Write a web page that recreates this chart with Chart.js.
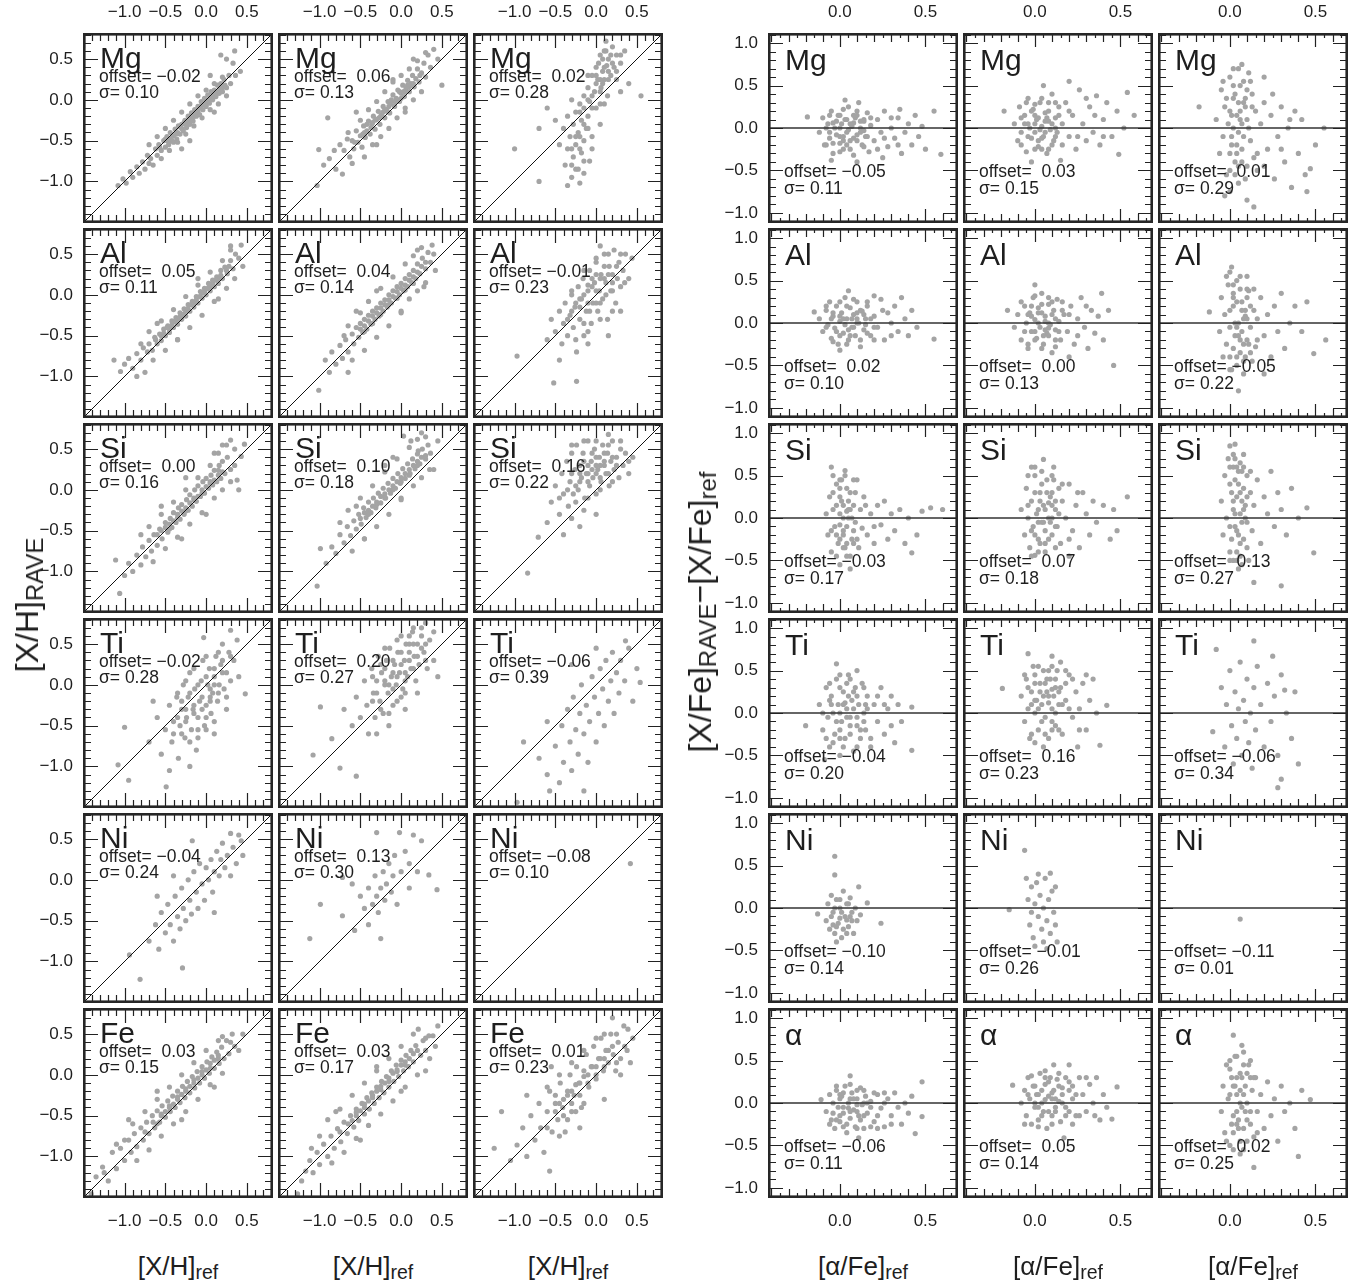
<!DOCTYPE html>
<html>
<head>
<meta charset="utf-8">
<title>RAVE abundances vs reference</title>
<script src="https://cdn.jsdelivr.net/npm/chart.js@4.4.1/dist/chart.umd.min.js"></script>
<style>
  body { margin: 0; background: #fff; }
  #fig { position: relative; width: 1369px; height: 1288px; overflow: hidden;
         font-family: "Liberation Sans", Arial, Helvetica, sans-serif; color: #1e1e1e; }
  .txt { position: absolute; white-space: pre; line-height: 1; }
  .panel { position: absolute; }
  .title { position: absolute; white-space: nowrap; line-height: 1; }
  .sub { font-size: 0.75em; position: relative; top: 0.2em; }
</style>
</head>
<body>
<div id="fig"></div>
<script>
// Panel rows and the numbers printed in each panel
const XH_ROWS = ['Mg', 'Al', 'Si', 'Ti', 'Ni', 'Fe'];
const XFE_ROWS = ['Mg', 'Al', 'Si', 'Ti', 'Ni', '\u03b1'];

const XH_OFFSET = [[-0.02, 0.06, 0.02], [0.05, 0.04, -0.01], [0.00, 0.10, 0.16],
                   [-0.02, 0.20, -0.06], [-0.04, 0.13, -0.08], [0.03, 0.03, 0.01]];
const XH_SIGMA = [[0.10, 0.13, 0.28], [0.11, 0.14, 0.23], [0.16, 0.18, 0.22],
                  [0.28, 0.27, 0.39], [0.24, 0.30, 0.10], [0.15, 0.17, 0.23]];
const XFE_OFFSET = [[-0.05, 0.03, 0.01], [0.02, 0.00, -0.05], [-0.03, 0.07, 0.13],
                    [-0.04, 0.16, -0.06], [-0.10, -0.01, -0.11], [-0.06, 0.05, 0.02]];
const XFE_SIGMA = [[0.11, 0.15, 0.29], [0.10, 0.13, 0.22], [0.17, 0.18, 0.27],
                   [0.20, 0.23, 0.34], [0.14, 0.26, 0.01], [0.11, 0.14, 0.25]];

// Axis ranges and tick labels
const XH_RANGE = [-1.51, 0.82];
const XH_TICKS = [-1.0, -0.5, 0.0, 0.5];
const XFE_XRANGE = [-0.42, 0.69];
const XFE_YRANGE = [-1.12, 1.12];
const XFE_XTICKS = [0.0, 0.5];
const XFE_YTICKS = [-1.0, -0.5, 0.0, 0.5, 1.0];

// [X/H]_RAVE vs [X/H]_ref  (x, y pairs)
const XH_MG_1 = [-1.08,-1.05, -1.02,-.97, -.98,-1.02, -.93,-.88, -.9,-.95, -.85,-.82, -.82,-.9, -.78,-.76, -.75,-.85, -.72,-.68, -.7,-.78, -.68,-.72,
  -.62,-.6, -.6,-.68, -.58,-.55, -.55,-.62, -.52,-.5, -.5,-.58, -.48,-.45, -.46,-.55, -.44,-.4, -.42,-.5, -.4,-.44, -.38,-.36,
  -.36,-.48, -.34,-.32, -.32,-.42, -.3,-.3, -.28,-.38, -.26,-.25, -.24,-.34, -.22,-.2, -.2,-.3, -.18,-.16, -.16,-.26, -.14,-.12,
  -.12,-.2, -.1,-.08, -.08,-.18, -.06,-.02, -.04,-.12, -.02,.02, 0,-.08, .02,.06, .04,-.04, .06,.1, .08,0, .1,.12, .12,.04,
  .14,.18, .16,.08, .18,.2, .2,.1, .22,.25, .25,.15, .28,.3, .3,.2, .33,.45, .36,.3, .25,.5, .18,.55, .35,.6, .05,.3,
  -.2,-.5, .1,-.15, -.3,-.6, .42,.35, -.45,-.5, -.35,-.4, -.25,-.3, -.15,-.2, -.05,-.05, .05,.02, .15,.1, -.5,-.48,
  -.3,-.35, -.1,-.14, .1,.06, .2,.15, -.4,-.52, -.2,-.24, 0,-.02,
  -.57,-.58, -.47,-.5, -.37,-.42, -.27,-.28, -.17,-.22, -.07,-.1, .03,0, .13,.08, .23,.18, -.43,-.47, -.33,-.33, -.23,-.27,
  -.13,-.15, -.03,-.06, .07,.04, .17,.14,
  -.6,-.45, -.55,-.72, -.5,-.35, -.45,-.62, -.4,-.25, -.35,-.52, -.3,-.15, -.25,-.42, -.2,-.05, -.15,-.32, -.1,.05, -.05,-.22,
  0,.12, .05,-.12, .1,.2, .15,-.05, .2,.28, .25,.05, -.65,-.8, -.7,-.55];
const XH_MG_2 = [-1.03,-1.05, -1.01,-.61, -.9,-.22, -.95,-.8, -.88,-.72, -.82,-.62, -.8,-.85, -.75,-.55, -.72,-.91, -.7,-.62, -.66,-.48,
  -.63,-.7, -.6,-.5, -.58,-.6, -.55,-.38, -.53,-.52, -.5,-.44, -.48,-.58, -.46,-.32, -.44,-.46, -.42,-.38, -.4,-.26, -.38,-.42,
  -.36,-.3, -.34,-.2, -.32,-.36, -.3,-.24, -.28,-.14, -.26,-.3, -.24,-.18, -.22,-.08, -.2,-.22, -.18,-.12, -.16,-.02, -.14,-.16,
  -.12,-.05, -.1,.06, -.08,-.08, -.06,.02, -.04,.12, -.02,-.02, 0,.08, .02,.18, .04,.04, .06,.14, .08,.24, .1,.1, .12,.2,
  .14,.3, .16,.16, .18,.26, .2,.38, .22,.22, .25,.33, .28,.45, .3,.28, .33,.55, .36,.4, .4,.62, .45,.5, .15,.5, -.1,.25,
  .05,-.15, -.3,-.55, .5,.18, -.45,-.4, -.35,-.28, -.25,-.2, -.15,-.08, -.05,0, .05,.1, .15,.2, -.2,-.12, 0,.02, .1,.16,
  -.57,-.52, -.47,-.42, -.37,-.34, -.27,-.22, -.17,-.14, -.07,-.02, .03,.1, .13,.18, .23,.3, -.42,-.3, -.32,-.25, -.22,-.15,
  -.12,0, -.02,.1, .08,.18,
  -.65,-.4, -.6,-.78, -.5,-.25, -.45,-.7, -.4,-.12, -.35,-.55, -.3,-.02, -.25,-.45, -.2,.1, -.15,-.35, -.1,.22, -.05,-.22,
  0,.3, .05,-.1, .1,.38, .15,0, .2,.48, .25,.1, .3,.58, -.55,-.15];
const XH_MG_3 = [0,.4, .05,.55, .1,.6, .15,.5, .2,.65, .25,.55, .3,.45, .35,.6, .12,.72, -.05,.3, .02,.25, .08,.35, .18,.3, .25,.25,
  -.1,.15, -.02,.1, .06,.15, .14,.05, -.15,.05, -.2,-.05, -.08,-.02, 0,-.1, .1,-.05, -.25,-.15, -.3,0, -.18,-.25, -.1,-.2,
  -.28,-.3, -.35,-.2, -.22,-.4, -.12,-.35, -.32,-.45, -.4,-.35, -.25,-.55, -.15,-.5, -.35,-.6, -.28,-.7, -.18,-.65, -.38,-.8,
  -.22,-.85, -.3,-.95, -.15,-.9, -.35,-1.05, -.2,-1.02, -.08,-.75, -.45,-.55, -.5,-.25, -.6,-.1, -.7,-.35, -1.0,-.6, -.7,-1.0,
  .4,.2, .55,.05, .3,.1, -.05,-.45, .05,-.3, -.15,-.1, -.05,.05, .05,.25, .1,.4, -.2,-.15, .15,.35, 0,.2,
  .03,.45, .08,.5, .13,.42, .18,.55, .22,.4, .08,.2, .15,.25, 0,.3, -.1,0, -.05,-.1, -.15,-.3, -.25,-.45, -.2,-.6, -.3,-.8,
  .05,.1, .12,.6,
  .1,.25, .2,.45, .25,.35, .3,.55, -.1,-.35, -.2,-.45, -.3,-.6, -.25,-.85, -.15,-.75, -.05,-.6, .05,-.05, -.1,.3];
const XH_AL_1 = [-1.13,-.8, -1.05,-.94, -1.0,-.85, -.95,-.78, -.9,-.9, -.85,-.72, -.8,-.8, -.77,-.65, -.72,-.7, -.7,-.6, -.66,-.68,
  -.63,-.52, -.6,-.6, -.57,-.48, -.55,-.56, -.52,-.42, -.5,-.5, -.47,-.38, -.45,-.46, -.42,-.32, -.4,-.4, -.37,-.28, -.35,-.36,
  -.32,-.22, -.3,-.3, -.27,-.17, -.25,-.26, -.22,-.12, -.2,-.2, -.17,-.08, -.15,-.15, -.12,-.02, -.1,-.1, -.07,.04, -.05,-.04,
  -.02,.08, 0,0, .03,.14, .05,.05, .08,.18, .1,.1, .13,.22, .15,.14, .18,.3, .2,.2, .23,.34, .26,.26, .3,.42, .33,.32,
  .36,.5, .4,.45, .43,.61, .3,.6, .45,.35, -.35,-.55, -.6,-.35, .15,-.05, -.1,.2, -.75,-.95, -.45,-.42, -.35,-.3, -.25,-.2,
  -.15,-.1, -.05,.02, .05,.1, .15,.2, -.55,-.5, .25,.3,
  -.62,-.55, -.52,-.47, -.42,-.37, -.32,-.27, -.22,-.17, -.12,-.06, -.02,.04, .08,.14, .18,.24, .28,.35, -.48,-.4, -.38,-.33,
  -.28,-.24, -.18,-.12, -.08,-.02, .02,.08, .12,.18,
  -.7,-.45, -.65,-.8, -.55,-.32, -.5,-.68, -.4,-.18, -.35,-.55, -.25,-.02, -.2,-.4, -.1,.12, -.05,-.25, .05,.28, .1,-.08,
  .2,.42, .25,.08, .3,.55, -.8,-.6, -.85,-1.0, .35,.2];
const XH_AL_2 = [-1.01,-1.17, -.93,-.8, -.88,-.95, -.85,-.7, -.8,-.85, -.75,-.62, -.72,-.78, -.68,-.55, -.65,-.7, -.6,-.48, -.58,-.6,
  -.55,-.4, -.52,-.52, -.5,-.35, -.47,-.46, -.45,-.3, -.42,-.42, -.4,-.25, -.37,-.36, -.35,-.2, -.32,-.3, -.3,-.16, -.27,-.26,
  -.25,-.1, -.22,-.2, -.2,-.06, -.17,-.15, -.15,0, -.12,-.1, -.1,.05, -.07,-.04, -.05,.1, -.02,0, 0,.14, .03,.05, .05,.2,
  .08,.1, .1,.25, .13,.15, .15,.3, .18,.2, .2,.38, .23,.26, .26,.45, .3,.32, .33,.52, .36,.4, .38,.61, .2,.55, .42,.3,
  -.3,.05, 0,-.2, -.65,-.95, -.55,-.2, .28,.1, -.45,-.38, -.35,-.26, -.25,-.16, -.15,-.06, -.05,.04, .05,.12, .15,.22, .25,.35,
  -.5,-.42, -.4,-.32, -.3,-.22, -.2,-.12, -.1,-.02, 0,.08, .1,.18, .2,.28, .3,.4, -.45,-.45, -.35,-.35, -.25,-.24, -.15,-.12,
  -.05,-.04, .05,.06, .15,.14,
  -.65,-.38, -.6,-.8, -.5,-.22, -.45,-.68, -.4,-.08, -.3,-.52, -.25,.08, -.15,-.38, -.1,.22, 0,-.22, .05,.38, .1,-.05,
  .15,.48, .2,.05, .25,.58, .3,.15, -.7,-.5, .4,.5];
const XH_AL_3 = [-.97,-.75, -.52,-1.08, -.24,-1.06, -.6,-.55, -.55,-.3, -.5,-.45, -.45,-.2, -.42,-.6, -.4,-.35, -.38,-.1, -.35,-.5,
  -.32,-.25, -.3,.05, -.28,-.4, -.26,-.15, -.24,-.7, -.22,.1, -.2,-.3, -.18,-.05, -.16,.2, -.15,-.5, -.12,-.2, -.1,.05, -.08,.3,
  -.06,-.35, -.04,-.1, -.02,.15, 0,.4, .02,-.2, .04,.05, .06,.25, .08,-.05, .1,.5, .12,.15, .14,-.3, .16,.35, .18,.05, .2,.25,
  .22,.55, .24,-.1, .26,.2, .28,.4, .3,.1, .33,.3, .36,.5, .4,.2, .44,.45, .05,.6, -.1,-.6, .15,-.5, -.45,-.8, .3,-.2,
  -.1,-.1, 0,.05, .1,.2, -.2,-.15, .05,-.1, -.05,.2,
  -.25,-.1, -.15,0, -.05,.1, .05,.2, .15,.25, -.3,-.2, -.2,-.05, -.1,.12, 0,.25, .1,.35, .2,.15, -.15,-.35, 0,-.1, -.08,-.2,
  .12,0, .25,.35,
  -.35,-.3, -.25,-.55, -.1,-.45, .05,-.3, .2,-.2, -.3,0, -.15,.3, 0,.45, .15,.5, .3,.5, .35,.15, .2,.05];
const XH_SI_1 = [-1.06,-1.27, -1.11,-.86, -1.0,-1.05, -.95,-.9, -.9,-1.0, -.85,-.8, -.8,-.92, -.78,-.7, -.74,-.82, -.7,-.62, -.67,-.75,
  -.64,-.55, -.6,-.68, -.57,-.48, -.54,-.6, -.5,-.4, -.47,-.52, -.44,-.35, -.42,-.46, -.4,-.28, -.37,-.4, -.34,-.22, -.32,-.36,
  -.3,-.18, -.27,-.3, -.24,-.12, -.22,-.25, -.2,-.06, -.17,-.2, -.14,0, -.12,-.14, -.1,.05, -.07,-.08, -.04,.1, -.02,-.04,
  0,.14, .03,.02, .06,.18, .08,.06, .1,.24, .13,.1, .16,.3, .18,.14, .2,.35, .23,.2, .26,.4, .3,.25, .3,.61, .35,.3,
  .43,.41, .47,.56, .2,.55, .38,.12, -.25,.15, -.3,-.6, 0,-.3, -.55,-.2, .1,.45, .4,0, -.45,-.42, -.35,-.3, -.25,-.22,
  -.15,-.12, -.05,0, .05,.08, .15,.18,
  -.6,-.55, -.5,-.46, -.4,-.38, -.3,-.26, -.2,-.16, -.1,-.08, 0,.04, .1,.12, .2,.22, -.55,-.5, -.45,-.48, -.35,-.34,
  -.25,-.26, -.15,-.1, -.05,-.04, .05,.1, .15,.24,
  -.7,-.45, -.65,-.88, -.55,-.3, -.5,-.72, -.4,-.15, -.35,-.58, -.25,0, -.2,-.42, -.1,.15, -.05,-.28, .05,.3, .1,-.1,
  .15,.45, .2,0, .25,.55, .3,.1, -.8,-.55, .35,.5];
const XH_SI_2 = [-1.03,-1.18, -.99,-.72, -.92,-.9, -.85,-.7, -.8,-.78, -.75,-.55, -.7,-.65, -.66,-.45, -.62,-.56, -.58,-.38, -.55,-.48,
  -.52,-.3, -.49,-.42, -.46,-.22, -.43,-.34, -.4,-.15, -.37,-.28, -.34,-.1, -.31,-.22, -.28,-.04, -.25,-.16, -.22,.02, -.19,-.1,
  -.16,.08, -.13,-.04, -.1,.14, -.07,.02, -.04,.2, -.01,.08, .02,.26, .05,.14, .08,.32, .11,.2, .14,.38, .17,.26, .2,.44,
  .23,.32, .26,.5, .3,.38, .33,.55, .36,.45, .03,.66, .12,.6, .21,.48, -.1,.4, .4,.25, .45,.6, -.2,.3, 0,-.1, -.45,-.6,
  .25,.7, -.4,-.25, -.3,-.15, -.2,-.05, -.1,.05, 0,.15, .1,.25, .2,.35,
  -.5,-.35, -.4,-.3, -.3,-.18, -.2,-.1, -.1,0, 0,.1, .1,.18, .2,.3, .3,.42, -.45,-.28, -.35,-.2, -.25,-.08, -.15,0,
  -.05,.1, .05,.2, .15,.3, .25,.4,
  -.65,-.25, -.6,-.75, -.5,-.1, -.45,-.6, -.35,.05, -.3,-.45, -.2,.22, -.15,-.3, -.05,.38, 0,-.12, .1,.52, .15,.05,
  .2,.62, .25,.15, .3,.65, -.75,-.4, .35,.25, -.55,-.2];
const XH_SI_3 = [-.84,-1.02, -.71,-.58, -.6,-.4, -.55,-.15, -.5,.05, -.45,-.3, -.42,.2, -.4,-.05, -.36,.35, -.34,-.2, -.32,.1,
  -.3,.45, -.28,-.05, -.26,.25, -.24,.55, -.22,0, -.2,.3, -.18,.15, -.16,.45, -.14,-.1, -.12,.2, -.1,.6, -.08,.05, -.06,.35,
  -.04,.15, -.02,.5, 0,-.05, .02,.25, .04,.4, .06,.1, .08,.55, .1,.3, .12,.2, .14,.45, .16,.05, .18,.35, .2,.6, .22,.25,
  .25,.4, .28,.15, .3,.5, .33,.3, .36,.45, .4,.2, .45,.4, -.3,-.35, -.15,-.25, 0,-.3, -.4,-.55, -.2,-.45, .15,.68,
  -.1,.2, 0,.3, -.2,.1, .1,.35, -.05,.25,
  -.2,.2, -.1,.3, 0,.4, .1,.45, .2,.4, -.15,.35, -.05,.45, .05,.3, .15,.2, -.25,.05, -.1,.1, .05,.15, .25,.3, -.3,.2, 0,.2,
  -.35,0, -.25,-.15, -.1,-.1, .05,0, .2,.1, -.3,.55, -.15,.6, 0,.6, .15,.55, .3,.6, .4,.35, -.45,-.1];
const XH_TI_1 = [-1.0,-.52, -1.08,-.98, -.95,-1.17, -.49,-1.25, .48,-.11, -.03,.58, .3,.67, -.7,-.7, -.6,-.4, -.55,-.85, -.5,-.55,
  -.45,-.25, -.42,-.7, -.4,-.45, -.36,-.15, -.34,-.9, -.32,-.5, -.3,-.3, -.28,0, -.26,-.65, -.24,-.4, -.22,-.15, -.2,.15,
  -.18,-.55, -.16,-.3, -.14,-.05, -.12,-.8, -.1,-.4, -.08,-.2, -.06,.05, -.04,.3, -.02,-.5, 0,-.25, .02,0, .04,.2, .06,-.35,
  .08,-.1, .1,.1, .12,.35, .14,-.2, .16,0, .18,.25, .2,.5, .22,-.05, .25,.15, .28,.4, .3,.05, .34,.3, .38,.55, .25,-.3,
  -.45,-1.05, -.65,-.2, .1,-.6, -.2,-1.0, .4,.1, -.15,-.25, -.05,-.15, .05,-.05, -.25,-.3, .1,0,
  -.3,-.2, -.2,-.1, -.1,0, 0,.1, .1,.2, -.25,-.45, -.15,-.35, -.05,-.3, .05,-.2, .15,-.1, -.35,-.4, .2,.3, -.1,-.55, 0,-.4, .2,.15,
  -.3,-.6, -.2,-.7, -.1,-.65, 0,-.55, .1,-.45, -.35,-.1, -.25,.05, -.15,.2, 0,.35, .15,.4, .3,.35, .25,-.15, -.4,-.6, .05,-.15];
const XH_TI_2 = [-.99,-.27, -1.08,-.86, -.75,-1.02, -.55,-1.12, -.85,-.66, .3,.76, -.7,-.3, -.6,-.5, -.55,-.15, -.5,-.4, -.45,.05,
  -.42,-.25, -.4,-.6, -.36,.2, -.34,-.1, -.32,-.4, -.3,.05, -.28,.35, -.26,-.2, -.24,.15, -.22,-.35, -.2,0, -.18,.3, -.16,-.1,
  -.14,.45, -.12,.1, -.1,-.25, -.08,.25, -.06,0, -.04,.4, -.02,.15, 0,.6, .02,-.05, .04,.3, .06,.5, .08,.1, .1,.4, .12,.2,
  .14,.65, .16,.35, .18,.05, .2,.5, .22,.25, .25,.7, .28,.4, .32,.2, .35,.55, .4,.3, .45,.1, -.3,-.6, .05,-.3, .4,.65,
  -.15,-.5, -.1,.15, 0,.25, .1,.3, -.2,.05, .05,.15,
  -.2,.2, -.1,.3, 0,.4, .1,.5, .2,.35, -.15,0, -.05,.1, .05,.05, .15,.2, .25,.45, -.3,-.1, .3,.5, 0,-.15, -.25,.25, .15,.5,
  -.35,-.2, -.25,-.3, -.15,-.35, -.05,-.2, .05,-.1, .2,-.1, .25,.6, .1,.6, -.05,.55, -.2,.45, -.35,.1, .3,.3, .15,.7, -.1,-.05];
const XH_TI_3 = [-.97,-1.44, -.57,-1.3, -.89,-.7, .36,.54, .54,.03, -.7,-.9, -.6,-1.1, -.5,-.75, -.45,-1.2, -.42,-.5, -.4,-.95,
  -.35,-.3, -.32,-.7, -.3,-1.05, -.28,-.15, -.25,-.55, -.22,-.85, -.2,-.35, -.18,0, -.15,-.6, -.12,-.25, -.1,-.95, -.08,-.45,
  -.05,.1, -.02,-.15, 0,-.7, .03,-.35, .05,.2, .08,-.05, .1,-.5, .12,.3, .15,-.2, .18,.05, .2,.4, .22,-.35, .25,.15,
  .28,-.1, .3,.3, .35,.05, .4,.45, .45,-.2, .5,.2, -.6,-.45, -.3,.25, 0,.45, -.15,-1.3];
const XH_NI_1 = [-.94,-.92, -.81,-1.22, -.29,-1.08, -.17,.48, .43,.48, .3,.57, -.7,-.75, -.62,-.55, -.58,-.85, -.55,-.4, -.5,-.65,
  -.47,-.3, -.44,-.55, -.4,-.75, -.38,-.2, -.35,-.45, -.32,-.6, -.3,-.1, -.28,-.35, -.25,-.5, -.22,0, -.2,-.25, -.18,-.42,
  -.15,.1, -.12,-.15, -.1,-.35, -.08,.2, -.05,-.05, -.02,-.25, 0,.15, .03,0, .06,.25, .08,-.15, .1,.1, .13,.35, .16,.05,
  .18,.25, .2,.45, .23,.15, .26,.3, .3,.05, .33,.4, .37,.2, .4,.55, .45,.3, -.4,.05, .1,-.4, -.6,-.2];
const XH_NI_2 = [-1.12,-.72, -.99,-.3, -.72,-.44, -.57,-.62, -.25,-.72, -.3,.58, -.02,.58, .25,.48, .34,.06, .44,-.12, -.72,.03,
  -.5,-.2, -.45,-.35, -.4,-.1, -.35,-.3, -.32,.05, -.3,-.2, -.28,-.4, -.25,-.1, -.22,.1, -.2,-.25, -.18,-.05, -.15,.2,
  -.12,-.15, -.1,.05, -.08,.3, -.05,-.3, 0,.1, .05,.35, .1,.2, .15,.55, .2,.1, -.6,-.05, -.4,-.55, .1,-.1];
const XH_NI_3 = [.42,.2];
const XH_FE_1 = [-1.41,-1.46, -1.27,-1.13, -1.35,-1.25, -1.2,-1.3, -1.15,-.95, -1.1,-1.15, -1.05,-.9, -1.0,-1.05, -.95,-.8,
  -.92,-.95, -.88,-.72, -.85,-.88, -.8,-.65, -.77,-.8, -.73,-.58, -.7,-.72, -.66,-.5, -.63,-.65, -.6,-.44, -.57,-.58,
  -.54,-.38, -.5,-.52, -.47,-.32, -.44,-.45, -.41,-.26, -.38,-.4, -.35,-.2, -.32,-.34, -.29,-.14, -.26,-.28, -.23,-.08,
  -.2,-.22, -.17,-.02, -.14,-.16, -.11,.04, -.08,-.1, -.05,.1, -.02,-.04, .01,.16, .04,.02, .07,.22, .1,.08, .13,.28,
  .16,.14, .19,.34, .22,.2, .25,.42, .28,.26, .32,.5, .35,.35, .4,.3, .2,.47, -.6,-.2, -.3,-.55, .1,-.15, -.95,-.55, .45,.5,
  -.55,-.5, -.45,-.4, -.35,-.3, -.25,-.2, -.15,-.1, -.05,0, .05,.08, .15,.2,
  -.75,-.7, -.65,-.58, -.55,-.48, -.45,-.38, -.35,-.27, -.25,-.17, -.15,-.06, -.05,.04, .05,.14, .15,.24, -.6,-.6, -.5,-.45,
  -.4,-.36, -.3,-.24, -.2,-.14, -.1,-.04, 0,.06, .1,.18,
  -.9,-.6, -.85,-1.05, -.75,-.45, -.7,-.92, -.6,-.3, -.55,-.75, -.45,-.15, -.4,-.6, -.3,0, -.25,-.45, -.15,.15, -.1,-.3,
  0,.3, .05,-.12, .15,.42, .2,.02, .3,.4, -1.0,-.8, -1.1,-.85, -1.25,-1.2];
const XH_FE_2 = [-1.27,-1.46, -1.17,-1.18, -1.22,-1.3, -1.12,-1.05, -1.08,-1.2, -1.03,-.95, -1.0,-1.1, -.95,-.85, -.9,-1.0,
  -.86,-.75, -.82,-.9, -.78,-.66, -.74,-.82, -.7,-.58, -.66,-.72, -.62,-.5, -.58,-.64, -.55,-.42, -.52,-.56, -.48,-.35,
  -.45,-.48, -.42,-.28, -.39,-.42, -.36,-.22, -.33,-.35, -.3,-.15, -.27,-.28, -.24,-.08, -.21,-.22, -.18,-.02, -.15,-.15,
  -.12,.05, -.09,-.08, -.06,.12, -.03,-.02, 0,.18, .03,.05, .06,.24, .09,.1, .12,.3, .15,.16, .18,.36, .21,.56, .24,.24,
  .27,.42, .3,.3, .34,.48, .39,.48, .42,.35, .45,.6, -.5,-.8, -.8,-.45, 0,-.2, -.3,.1, .3,.05, -.55,-.5, -.45,-.4,
  -.35,-.28, -.25,-.18, -.15,-.08, -.05,.04, .05,.12,
  -.75,-.7, -.65,-.6, -.55,-.46, -.45,-.36, -.35,-.25, -.25,-.14, -.15,-.04, -.05,.06, .05,.16, .15,.26, -.6,-.56, -.5,-.44,
  -.4,-.32, -.3,-.2, -.2,-.1, -.1,.02, 0,.12, .1,.2, .2,.3,
  -.9,-.55, -.85,-1.08, -.75,-.42, -.7,-.95, -.6,-.25, -.55,-.78, -.45,-.1, -.4,-.62, -.3,.05, -.25,-.48, -.15,.2, -.1,-.32,
  0,.35, .05,-.15, .15,.5, .2,0, .3,.45, -1.0,-.75, -1.1,-.9, .35,.2];
const XH_FE_3 = [-1.25,-.9, -1.16,-.45, -.97,-.86, -.57,-1.18, .39,.56, -1.05,-1.05, -.9,-.65, -.85,-1.0, -.8,-.5, -.75,-.8,
  -.7,-.35, -.68,-.65, -.64,-.95, -.6,-.45, -.57,-.2, -.54,-.7, -.5,-.35, -.47,-.55, -.44,-.1, -.41,-.4, -.38,-.7, -.35,-.2,
  -.32,0, -.3,-.45, -.27,-.25, -.24,.1, -.21,-.1, -.18,-.4, -.15,.05, -.12,.25, -.09,-.15, -.06,.1, -.03,.35, 0,-.05,
  .03,.2, .06,.45, .09,.05, .12,.3, .15,.15, .18,.5, .21,.25, .24,.05, .27,.4, .3,.2, .34,.6, .38,.3, .42,.15, .45,.45,
  -.2,-.65, .1,-.3, -.55,.1, -.85,-.25, .2,.7, -.4,-.3, -.3,-.2, -.2,-.1, -.1,0, 0,.1, .1,.2, -.5,-.45,
  -.45,-.35, -.35,-.25, -.25,-.12, -.15,-.02, -.05,.1, .05,.2, .15,.3, -.4,-.5, -.3,-.35, -.2,-.25, -.1,-.1, 0,0, .1,.1,
  .2,.35, -.5,-.25, .25,.5,
  -.6,-.65, -.45,-.75, -.35,-.55, -.25,-.45, -.15,-.35, -.6,-.15, -.45,0, -.3,.15, -.15,.3, 0,.45, .1,.5, .25,.15, .35,.35, .3,0];

// [X/Fe]_RAVE - [X/Fe]_ref vs [alpha/Fe]_ref
const XFE_MG_1 = [-.19,.13, .59,-.31, .55,.2, -.12,-.05, -.1,.12, -.09,-.2, -.07,.05, -.06,-.12, -.05,.2, -.04,-.3, -.03,0,
  -.02,-.08, -.01,.15, 0,-.18, .01,.05, .02,-.25, .03,.1, .04,-.05, .05,.25, .06,-.15, .07,.02, .08,-.32, .09,.12, .1,-.08,
  .11,.3, .12,0, .13,-.2, .14,.08, .15,-.1, .16,.18, .17,-.28, .18,.03, .2,-.15, .22,.1, .24,-.05, .26,.2, .28,-.22, .3,0,
  .32,-.12, .34,.12, .36,-.3, .38,-.05, .4,.05, .42,-.2, .44,.15, .46,-.1, .48,.02, .5,-.25, .03,.33, .1,-.4, -.05,-.38,
  .25,-.35, .35,.22, 0,0, .05,-.02, .08,.06, 0,-.1, .04,.1, .08,-.12, .12,.08, -.04,.06, .02,-.15, .14,-.03,
  -.06,-.05, -.02,.08, .02,-.1, .06,.05, .1,-.15, .14,.1, -.04,-.18, 0,.15, .04,-.2, .08,.15, .12,-.05, .16,-.1, -.08,0, .1,.2,
  -.08,-.2, -.06,.15, 0,-.28, .02,.22, .06,-.25, .1,.15, .14,-.22, .18,.12, .22,-.25, .26,-.12, .3,.12, .34,-.2];
const XFE_MG_2 = [-.18,.2, .54,.42, .49,-.31, -.12,.05, -.1,-.15, -.09,.25, -.08,-.05, -.06,.15, -.05,-.28, -.04,.35, -.03,0,
  -.02,-.12, -.01,.22, 0,-.05, .01,.1, .02,-.22, .03,.3, .04,.02, .05,-.1, .06,.18, .07,-.3, .08,.08, .09,-.02, .1,.4,
  .11,-.15, .12,.12, .13,-.05, .14,.25, .15,-.38, .16,.05, .18,.3, .2,-.1, .22,.15, .24,-.25, .26,.45, .28,.05, .3,-.15,
  .32,.25, .34,-.05, .36,.38, .38,-.2, .4,.1, .42,.3, .45,-.1, .48,.2, .52,0, .58,.15, .2,.55, .05,.5, -.02,-.4, 0,.05,
  .03,-.02, .07,.12, 0,.15, .04,-.12, .08,.2, -.04,.05, .12,0, .02,.12,
  -.06,.05, -.02,.2, .02,-.15, .06,.08, .1,-.2, .14,.15, -.04,-.1, 0,.28, .04,-.25, .08,.3, .12,-.1, -.08,.12, .1,.05, .06,-.05,
  -.08,-.2, -.05,.3, 0,-.25, .04,.35, .08,-.25, .12,.3, .16,-.2, .2,.2, .25,-.1, .3,.35, .35,.15, .4,-.1];
const XFE_MG_3 = [-.18,.25, .07,.75, .47,-.48, .45,-.75, .14,-.93, -.08,.1, -.06,-.3, -.05,.45, -.04,-.1, -.03,.25, -.02,-.55,
  -.01,.05, 0,.6, .01,-.2, .02,.35, .03,-.4, .04,.15, .05,-.05, .06,.5, .07,-.25, .08,.3, .09,-.6, .1,.1, .11,.65, .12,-.15,
  .13,.4, .14,-.35, .15,.2, .16,-.5, .18,.05, .2,.3, .22,-.25, .24,.15, .26,-.6, .28,-.1, .3,.25, .32,-.4, .34,0, .36,-.7,
  .38,.2, .4,-.3, .42,.1, .44,-.55, .5,-.2, .55,0, 0,-.75, .05,.7, -.03,-.8, .1,-.85, .2,.6, .02,0, .06,.2, .04,-.2,
  .03,.4, .05,-.45, .01,.15, .07,.05, .09,.35, 0,-.3,
  0,.2, .02,.5, .04,-.3, .06,.1, .08,-.1, .1,.45, .03,-.55, .05,.3, .07,-.4, .09,.25, .11,0, .01,-.1, .12,.55, -.02,.35,
  -.04,.55, 0,-.5, .02,.7, .05,-.65, .08,.55, .1,-.45, .13,.25, .16,-.3, .2,-.45, .25,.4, .3,-.25, .35,.1];
const XFE_AL_1 = [-.15,.13, .55,-.19, -.12,.05, -.1,-.1, -.08,.15, -.07,-.02, -.06,.25, -.05,-.18, -.04,.08, -.03,-.06, -.02,.2,
  -.01,-.25, 0,.02, .01,.12, .02,-.12, .03,.3, .04,.05, .05,-.2, .06,.18, .07,-.05, .08,.1, .09,-.15, .1,.25, .11,0,
  .12,-.28, .13,.14, .14,-.08, .15,.05, .16,.2, .18,-.15, .2,.08, .22,-.05, .24,.28, .26,-.2, .28,.12, .3,0, .32,.2,
  .34,-.1, .36,.3, .38,.05, .4,-.15, .42,.15, .45,-.05, .05,.38, 0,-.32, .2,.32, .1,.05, .03,-.02, .07,.05, 0,.08,
  .05,-.08, .1,.12, .15,-.02, -.05,.05,
  -.04,.12, 0,-.15, .04,.2, .08,-.05, .12,.15, .16,-.12, -.08,-.05, .02,.05, .06,-.15, .1,0, .14,.1, .18,.05, -.02,-.1, .2,-.05,
  -.08,.2, -.04,-.22, 0,.25, .04,-.25, .08,.28, .12,-.2, .16,.25, .2,-.2, .25,.15, .3,-.15];
const XFE_AL_2 = [-.16,.15, .46,-.5, .39,.35, -.12,-.05, -.1,.1, -.08,-.2, -.06,.2, -.05,0, -.04,-.3, -.03,.12, -.02,-.1,
  -.01,.3, 0,.04, .01,-.18, .02,.18, .03,-.05, .04,.35, .05,-.25, .06,.08, .07,-.12, .08,.22, .09,-.02, .1,-.35, .11,.15,
  .12,-.08, .13,.28, .14,.02, .15,-.2, .17,.1, .19,-.1, .21,.2, .23,-.25, .25,.05, .27,.3, .29,-.05, .31,-.3, .33,.15,
  .35,-.12, .37,.08, .4,-.2, .43,.15, .2,-.4, 0,.45, .02,0, .06,.02, .08,-.06, 0,-.1, .04,.12, .08,-.15, .12,.05, -.02,.08,
  -.04,.1, 0,-.2, .04,.22, .08,0, .12,-.2, -.06,-.1, .02,.12, .06,-.08, .1,.1, .14,-.1, .16,.15, -.02,.2, .05,-.15, .1,.25,
  -.08,.25, -.04,-.25, 0,.32, .04,-.3, .08,.3, .12,-.28, .16,.25, .2,.1, .25,-.15, .3,.2];
const XFE_AL_3 = [.01,.66, .56,-.2, .49,-.36, -.12,.13, .05,-.8, -.06,-.1, -.05,.3, -.04,-.4, -.03,.1, -.02,-.25, -.01,.45,
  0,-.05, .01,-.55, .02,.2, .03,-.15, .04,.5, .05,0, .06,-.35, .07,.25, .08,-.6, .09,.08, .1,-.2, .11,.38, .12,-.05,
  .13,-.45, .14,.15, .15,-.28, .16,.05, .18,.3, .2,-.15, .22,.1, .24,-.4, .26,.2, .28,-.1, .3,.35, .32,-.3, .35,0,
  .38,.2, .42,-.1, .45,.25, .1,.55, 0,.6, .2,-.6, .03,0, .07,-.1, .09,.15, .02,.3, .06,-.2, .1,.4, .04,-.4, .08,.05,
  0,.15, .02,-.3, .04,.25, .06,.4, .08,-.25, .1,.05, .12,.2, 0,-.4, .02,.45, .05,-.15, .07,.15, .09,-.4, .11,-.25, .04,-.05,
  -.02,.55, 0,-.55, .02,.35, .04,-.5, .06,.55, .08,-.45, .1,.3, .12,-.35, .14,.4, .16,-.2];
const XFE_SI_1 = [.03,.56, .53,.12, .42,-.41, .6,.1, -.08,.05, -.07,-.2, -.06,.25, -.05,-.4, -.04,.1, -.03,-.1, -.02,.4,
  -.01,-.3, 0,.05, .01,.2, .02,-.15, .03,.5, .04,-.45, .05,0, .06,.3, .07,-.25, .08,.15, .09,-.05, .1,.45, .11,-.35,
  .12,.1, .13,-.12, .14,.25, .16,-.2, .18,.05, .2,-.3, .22,.15, .24,-.08, .26,.2, .28,-.25, .3,.05, .32,-.15, .35,.1,
  .38,-.3, .4,0, .45,-.2, .48,.08, -.05,.6, 0,-.55, .06,-.6, .02,0, .04,.08, 0,-.08, .08,-.15, 0,.25, .02,-.2, .05,.1,
  -.02,.15, .04,-.3,
  -.04,.3, -.02,-.2, 0,.35, .02,.15, .04,-.1, .06,.1, .08,-.3, -.05,-.15, .01,.45, .03,-.35, .05,.2, .07,0, .09,.3, 0,-.25,
  -.04,.5, -.02,-.45, 0,.45, .02,-.35, .04,.35, .06,-.45, .08,.45, .1,-.25, .15,.15, .2,-.1];
const XFE_SI_2 = [.05,.69, .54,.25, .48,-.15, 0,-.44, -.08,.1, -.06,-.2, -.05,.35, -.04,0, -.03,-.35, -.02,.2, -.01,-.1,
  0,.5, .01,.05, .02,-.25, .03,.3, .04,-.05, .05,.15, .06,-.4, .07,.45, .08,0, .09,.25, .1,-.2, .11,.6, .12,.1, .13,-.1,
  .14,.35, .15,-.3, .16,.2, .18,0, .2,.4, .22,-.15, .24,.15, .26,-.35, .28,.3, .3,.05, .32,-.2, .34,.2, .36,-.05, .4,.15,
  .44,-.25, .46,.1, -.02,.6, .2,-.45, .02,.1, .05,-.05, .08,.18, .1,0, .03,.2, .06,-.15, .1,.3, 0,-.2, .12,.2,
  -.04,.15, -.02,-.15, 0,.3, .02,-.05, .04,.4, .06,.1, .08,-.25, .1,.15, .12,-.1, .14,.05, .03,-.3, .07,.3, .11,.45, .09,-.05,
  -.04,.5, -.02,-.45, 0,.6, .02,-.4, .04,.55, .06,-.3, .1,.5, .12,-.35, .16,.4, .2,-.25, .25,.3];
const XFE_SI_3 = [.03,.87, .45,.12, .49,-.41, .14,-.76, .3,-.8, -.05,.2, -.04,-.2, -.03,.5, -.02,0, -.01,.7, 0,-.4, .01,.3,
  .02,.1, .03,-.1, .04,.6, .05,.4, .06,-.3, .07,.2, .08,.75, .09,0, .1,.5, .11,-.5, .12,.3, .13,-.15, .14,.15, .16,.45,
  .18,-.3, .2,.25, .22,.05, .24,.55, .26,-.1, .28,.3, .3,.1, .33,-.2, .36,.35, .4,0, .05,-.6, 0,.85, .02,-.5, .06,.05,
  .08,.35, .04,.25, .1,-.05, .03,.45, .05,-.2, .07,.55, .01,-.25, .09,.15,
  0,.4, .02,.2, .04,-.15, .06,.65, .08,.1, 0,-.1, .02,.6, .04,-.4, .06,.3, .08,-.25, .1,.25, .03,.05, .05,.55, .07,-.05,
  0,.6, .02,.75, .04,-.5, .06,-.45, .08,.6, .1,-.35, 0,-.5, .03,.7, .07,-.55, .12,.55];
const XFE_TI_1 = [-.2,-.15, -.02,.58, .42,.07, .42,-.44, -.12,.1, -.1,-.2, -.08,.3, -.07,-.05, -.06,-.4, -.05,.2, -.04,0,
  -.03,-.25, -.02,.4, -.01,.1, 0,-.5, .01,-.1, .02,.25, .03,-.3, .04,.05, .05,.45, .06,-.15, .07,.15, .08,-.45, .09,.3,
  .1,-.05, .11,.1, .12,-.3, .13,.35, .14,0, .15,-.2, .16,.2, .18,-.4, .2,.1, .22,-.1, .24,.3, .26,-.25, .28,.05, .3,.2,
  .32,-.35, .34,.1, .36,-.1, -.09,-.55, .1,.5, 0,0, .03,.12, .06,-.05, .08,.05, .05,.2, 0,-.2, .1,-.15, .15,.1, -.05,.1,
  -.06,.15, -.02,-.1, .02,.1, .06,-.25, .1,.2, .14,-.1, -.04,-.35, 0,.3, .04,-.05, .08,.25, .12,-.2, .16,.05, .04,.35, 0,-.3,
  -.08,-.3, -.06,.35, 0,.45, .02,-.4, .06,.4, .1,-.4, .14,.3, .18,-.3, .22,.2, .26,.1, .3,-.15, -.1,0];
const XFE_TI_2 = [-.19,.29, -.04,.7, .1,.67, .42,.09, .38,-.38, .05,-.4, -.08,.2, -.06,-.1, -.05,.4, -.04,.05, -.03,-.3,
  -.02,.25, -.01,.55, 0,0, .01,.15, .02,-.2, .03,.35, .04,.1, .05,.5, .06,-.05, .07,.25, .08,-.3, .09,.4, .1,.05, .11,.2,
  .12,-.15, .13,.5, .14,.1, .15,.3, .16,-.25, .18,.15, .2,.45, .22,-.05, .24,.25, .26,.05, .28,.35, .3,-.2, .32,.15,
  .34,.4, .36,0, .25,-.4, .15,.6, 0,.35, .05,.2, .08,.12, .1,.28, .03,.25, .07,.4, .12,.3, 0,.15, .1,-.1,
  -.04,.3, 0,.45, .04,-.1, .08,.2, .12,.4, .16,.1, .02,.05, .06,.35, .1,-.2, .14,.25, .18,.35, -.02,.1, .08,.5, .2,.05,
  -.06,.45, -.02,-.25, .02,.55, .06,-.25, .1,.55, .14,-.2, .18,.5, .22,.4, .26,-.2, .3,.45, 0,-.35, .12,0];
const XFE_TI_3 = [.14,.85, .25,.67, -.08,.75, -.1,-.22, .32,.27, .3,-.78, .28,-.88, -.05,.3, -.03,-.4, -.02,.1, 0,.5, .01,-.15,
  .02,-.6, .03,.25, .04,-.3, .05,.05, .06,.6, .07,-.5, .08,.15, .09,-.1, .1,.4, .11,-.35, .12,0, .13,-.65, .14,.3, .15,-.2,
  .16,.55, .18,.1, .2,-.4, .22,.35, .24,-.1, .26,.2, .28,-.5, .3,.45, .33,0, .36,-.3, .38,.25, .4,-.6];
const XFE_NI_1 = [-.03,.61, -.03,.39, .24,-.18, .16,.06, -.02,-.4, -.13,-.07, -.08,-.15, -.07,.05, -.06,-.25, -.05,.15, -.04,-.05,
  -.03,-.3, -.02,.1, -.01,-.18, 0,0, .01,-.35, .02,.2, .03,-.1, .04,.05, .05,-.22, .06,.12, .07,-.05, .08,-.3, .09,0,
  .1,-.15, .11,.25, .12,-.08, 0,-.12, -.04,-.2, .04,-.14,
  -.05,-.1, -.02,-.22, .01,-.05, .04,-.3, .07,-.15, 0,.1, -.03,0, .06,-.1, .02,-.25, .05,.05];
const XFE_NI_2 = [-.06,.68, .09,.41, 0,-.45, -.15,-.02, .07,-.48, -.05,.35, -.04,.1, -.03,-.2, -.02,.25, -.01,-.35, 0,.05,
  .01,.3, .02,-.1, .03,.15, .04,-.25, .05,0, .06,.35, .07,-.15, .08,.1, .09,-.3, .1,.2, .11,-.05, .12,.25, .13,-.4,
  .02,.4, -.02,-.05, .05,-.4, .12,-.2];
const XFE_NI_3 = [.06,-.13];
const XFE_A_1 = [-.11,.04, .06,.32, .48,.25, .48,-.16, .44,-.36, .11,-.41, -.08,-.1, -.06,.1, -.05,-.2, -.04,0, -.03,-.3,
  -.02,.15, -.01,-.05, 0,-.22, .01,.08, .02,-.12, .03,.2, .04,-.35, .05,0, .06,-.18, .07,.12, .08,-.08, .09,-.28, .1,.05,
  .11,-.15, .12,.18, .13,-.02, .14,-.3, .15,.08, .16,-.12, .18,.02, .2,-.22, .22,.1, .24,-.06, .26,-.28, .28,.05, .3,-.15,
  .32,.12, .34,-.05, .36,-.25, .38,0, .4,-.12, .42,.08, 0,.05, .05,-.06, .1,-.02, .2,.12, .02,-.05, .06,.05, .1,-.1,
  .14,0, 0,-.15,
  -.04,-.12, 0,.1, .04,-.25, .08,.05, .12,-.2, .16,0, -.02,-.2, .02,.12, .06,-.1, .1,.15, .14,-.15, .18,-.05, .22,-.15, .26,0,
  -.06,-.25, -.02,.2, .02,-.28, .06,.22, .1,-.3, .14,.15, .18,-.28, .22,-.3, .26,.12, .3,-.25];
const XFE_A_2 = [-.13,.21, .11,.45, .2,.45, .48,.19, .45,-.19, .17,-.41, -.08,0, -.06,.15, -.05,-.15, -.04,.3, -.03,.05,
  -.02,-.25, -.01,.2, 0,-.05, .01,.1, .02,-.2, .03,.35, .04,0, .05,-.1, .06,.22, .07,-.3, .08,.08, .09,.3, .1,-.15, .11,.15,
  .12,-.05, .13,.28, .14,.02, .15,-.22, .16,.18, .18,-.05, .2,.25, .22,.05, .24,-.15, .26,.3, .28,.1, .3,-.1, .32,.22,
  .34,0, .36,.3, .38,-.2, .4,.1, .42,-.05, .02,.1, .06,.04, .1,.12, 0,0, .04,.15, .08,-.1, .12,.05, .16,.1, .2,-.1,
  -.04,.1, 0,.2, .04,-.15, .08,.25, .12,-.1, .16,0, .2,.15, .24,.1, .02,-.05, .06,.3, .1,.05, .14,.2, .18,-.15, .22,.2,
  -.06,-.25, -.02,.32, .02,-.28, .06,.38, .1,-.25, .14,.35, .18,.3, .22,-.25, .26,-.15, .3,.3, .35,-.15];
const XFE_A_3 = [.02,.8, .07,.68, .47,.04, .4,-.63, .14,-.76, -.05,-.1, -.04,.2, -.03,-.35, -.02,.45, -.01,.05, 0,-.5,
  .01,.3, .02,-.15, .03,.55, .04,.1, .05,-.3, .06,.35, .07,-.05, .08,-.55, .09,.2, .1,0, .11,.45, .12,-.25, .13,.15,
  .14,-.4, .15,.3, .16,-.1, .18,.1, .2,-.3, .22,.25, .24,-.15, .26,.05, .28,-.45, .3,.2, .32,-.1, .35,0, .38,-.3, .42,.15,
  .06,0, .04,-.1, .08,.1, .03,.2, .05,-.2, .07,.3, .09,-.1, .01,-.25,
  0,.4, .02,-.35, .04,.3, .06,-.45, .08,.45, .1,-.2, .12,.3, 0,.1, .02,.2, .04,-.25, .06,.15, .08,-.3, .1,.35, .12,-.1,
  -.02,-.45, 0,.5, .02,-.55, .04,.55, .06,-.6, .08,.6, .1,-.45, .12,.5, .14,.3, .16,-.35];

const XH_DATA = [[XH_MG_1, XH_MG_2, XH_MG_3], [XH_AL_1, XH_AL_2, XH_AL_3], [XH_SI_1, XH_SI_2, XH_SI_3],
                 [XH_TI_1, XH_TI_2, XH_TI_3], [XH_NI_1, XH_NI_2, XH_NI_3], [XH_FE_1, XH_FE_2, XH_FE_3]];
const XFE_DATA = [[XFE_MG_1, XFE_MG_2, XFE_MG_3], [XFE_AL_1, XFE_AL_2, XFE_AL_3], [XFE_SI_1, XFE_SI_2, XFE_SI_3],
                  [XFE_TI_1, XFE_TI_2, XFE_TI_3], [XFE_NI_1, XFE_NI_2, XFE_NI_3], [XFE_A_1, XFE_A_2, XFE_A_3]];

// ---- layout ----
const fig = document.getElementById('fig');
const FONT = '"Liberation Sans", Arial, Helvetica, sans-serif';
const LEFT_X = [83, 278, 473];
const RIGHT_X = [768, 963, 1158];
const ROW_Y = [33, 228, 423, 618, 813, 1008];
const PW = 190, PH = 190;

function pairs(flat) {
  const out = [];
  for (let i = 0; i < flat.length; i += 2) out.push({ x: flat[i], y: flat[i + 1] });
  return out;
}
function fmtTick(v) { return (v < 0 ? '\u2212' : '') + Math.abs(v).toFixed(1); }
function fmtOffset(v) { return 'offset=' + (v < 0 ? ' \u2212' : '  ') + Math.abs(v).toFixed(2); }
function fmtSigma(v) { return '\u03c3= ' + v.toFixed(2); }

// div whose text baseline sits at y = base
function addText(str, x, base, size) {
  const d = document.createElement('div');
  d.className = 'txt';
  d.style.left = x + 'px';
  d.style.top = (base - 0.8465 * size) + 'px';
  d.style.fontSize = size + 'px';
  d.textContent = str;
  fig.appendChild(d);
}

// tick marks: [value, length]
function marks(from, to, step, lenOf) {
  const out = [];
  for (let i = from; i <= to; i++) out.push([i * step, lenOf(i)]);
  return out;
}
const XH_MARKS = marks(-15, 8, 0.1, i => (i % 5 === 0 ? 15 : 8));
const XFE_XMARKS = marks(-8, 13, 0.05, i => (i % 10 === 0 ? 14 : (i % 2 === 0 ? 9 : 5)));
const XFE_YMARKS = marks(-11, 11, 0.1, i => (i % 5 === 0 ? 15 : 8));

// inward ticks on all four sides and the heavy frame
function makeFrame(xMarks, yMarks) {
  return {
    id: 'frame',
    afterDatasetsDraw(chart) {
      const { ctx, chartArea: a } = chart;
      const xs = chart.scales.x, ys = chart.scales.y;
      ctx.save();
      ctx.beginPath();
      ctx.strokeStyle = '#222';
      ctx.lineWidth = 1.2;
      xMarks.forEach(([v, len]) => {
        const p = Math.round(xs.getPixelForValue(v)) + 0.5;
        ctx.moveTo(p, a.bottom); ctx.lineTo(p, a.bottom - len);
        ctx.moveTo(p, a.top); ctx.lineTo(p, a.top + len);
      });
      yMarks.forEach(([v, len]) => {
        const p = Math.round(ys.getPixelForValue(v)) + 0.5;
        ctx.moveTo(a.left, p); ctx.lineTo(a.left + len, p);
        ctx.moveTo(a.right, p); ctx.lineTo(a.right - len, p);
      });
      ctx.stroke();
      ctx.lineWidth = 2.6;
      ctx.strokeStyle = '#262626';
      ctx.strokeRect(a.left + 1.3, a.top + 1.3, a.right - a.left - 2.6, a.bottom - a.top - 2.6);
      ctx.restore();
    }
  };
}

// no extra room around the plot area for half-labels
function noPad(s) {
  s.paddingTop = 0; s.paddingBottom = 0; s.paddingLeft = 0; s.paddingRight = 0;
}

function makePanel(p) {
  const padL = p.col === 0 ? 72 : 0;
  const padT = p.row === 0 ? 34 : 0;
  const padB = p.row === 5 ? 40 : 0;
  const W = PW + padL, H = PH + padT + padB;
  const wrap = document.createElement('div');
  wrap.className = 'panel';
  wrap.style.left = (p.left - padL) + 'px';
  wrap.style.top = (p.top - padT) + 'px';
  wrap.style.width = W + 'px';
  wrap.style.height = H + 'px';
  const cv = document.createElement('canvas');
  cv.width = W; cv.height = H;
  cv.style.width = W + 'px'; cv.style.height = H + 'px';
  wrap.appendChild(cv);
  fig.appendChild(wrap);

  const tickFont = { family: FONT, size: 17 };
  const xAxis = (pos, shown, size) => ({
    type: 'linear', axis: 'x', position: pos, display: shown,
    min: p.xRange[0], max: p.xRange[1],
    grid: { display: false, drawTicks: false }, border: { display: false },
    ticks: { font: tickFont, color: '#1e1e1e', padding: pos === 'top' ? 10 : 13,
             maxRotation: 0, autoSkip: false, callback: fmtTick },
    afterBuildTicks: s => { s.ticks = p.xTicks.map(v => ({ value: v })); },
    afterFit: s => { s.height = size; noPad(s); }
  });

  new Chart(cv, {
    type: 'scatter',
    data: {
      datasets: [
        { data: p.refLine, showLine: true, borderColor: p.refColor, borderWidth: p.refWidth,
          pointRadius: 0, order: 0 },
        { data: pairs(p.points), backgroundColor: '#a4a4a4', borderWidth: 0, pointRadius: 2.6, order: 1 }
      ]
    },
    options: {
      responsive: false, animation: false, devicePixelRatio: 1, events: [],
      layout: { padding: 0, autoPadding: false },
      plugins: { legend: { display: false }, tooltip: { enabled: false } },
      scales: {
        x: xAxis('bottom', padB > 0, padB),
        xTop: xAxis('top', padT > 0, padT),
        y: {
          type: 'linear', position: 'left', display: padL > 0,
          min: p.yRange[0], max: p.yRange[1],
          grid: { display: false, drawTicks: false }, border: { display: false },
          ticks: { font: tickFont, color: '#1e1e1e', padding: 10, autoSkip: false, callback: fmtTick },
          afterBuildTicks: s => { s.ticks = p.yTicks.map(v => ({ value: v })); },
          afterFit: s => { s.width = padL; noPad(s); }
        }
      }
    },
    plugins: [makeFrame(p.xMarks, p.yMarks)]
  });
}

// left block: [X/H]_RAVE vs [X/H]_ref
XH_ROWS.forEach((el, r) => {
  for (let c = 0; c < 3; c++) {
    const L = LEFT_X[c], T = ROW_Y[r];
    makePanel({
      left: L, top: T, col: c, row: r, points: XH_DATA[r][c],
      xRange: XH_RANGE, yRange: XH_RANGE, xTicks: XH_TICKS, yTicks: XH_TICKS,
      refLine: [{ x: XH_RANGE[0], y: XH_RANGE[0] }, { x: XH_RANGE[1], y: XH_RANGE[1] }],
      refColor: '#111', refWidth: 1, xMarks: XH_MARKS, yMarks: XH_MARKS
    });
    addText(el, L + 17, T + 35, 30);
    addText(fmtOffset(XH_OFFSET[r][c]), L + 16, T + 50, 17.5);
    addText(fmtSigma(XH_SIGMA[r][c]), L + 16, T + 66, 17.5);
  }
});

// right block: [X/Fe] difference vs [alpha/Fe]_ref
XFE_ROWS.forEach((el, r) => {
  for (let c = 0; c < 3; c++) {
    const L = RIGHT_X[c], T = ROW_Y[r];
    makePanel({
      left: L, top: T, col: c, row: r, points: XFE_DATA[r][c],
      xRange: XFE_XRANGE, yRange: XFE_YRANGE, xTicks: XFE_XTICKS, yTicks: XFE_YTICKS,
      refLine: [{ x: XFE_XRANGE[0], y: 0 }, { x: XFE_XRANGE[1], y: 0 }],
      refColor: '#333', refWidth: 1.5, xMarks: XFE_XMARKS, yMarks: XFE_YMARKS
    });
    addText(el, L + 17, T + 37, 30);
    addText(fmtOffset(XFE_OFFSET[r][c]), L + 16, T + 145, 17.5);
    addText(fmtSigma(XFE_SIGMA[r][c]), L + 16, T + 162, 17.5);
  }
});

// axis titles
function addTitle(html, cx, cy, size, rotate) {
  const d = document.createElement('div');
  d.className = 'title';
  d.style.fontSize = size + 'px';
  d.style.left = cx + 'px';
  d.style.top = cy + 'px';
  d.style.transform = 'translate(-50%, -50%)' + (rotate ? ' rotate(-90deg)' : '');
  d.innerHTML = html;
  fig.appendChild(d);
}
LEFT_X.forEach(L => addTitle('[X/H]<span class="sub">ref</span>', L + PW / 2, 1266, 26, false));
RIGHT_X.forEach(L => addTitle('[\u03b1/Fe]<span class="sub">ref</span>', L + PW / 2, 1266, 26, false));
addTitle('[X/H]<span class="sub">RAVE</span>', 27, 605, 32, true);
addTitle('[X/Fe]<span class="sub">RAVE</span>\u2212[X/Fe]<span class="sub">ref</span>', 700, 612, 32, true);
</script>
</body>
</html>
